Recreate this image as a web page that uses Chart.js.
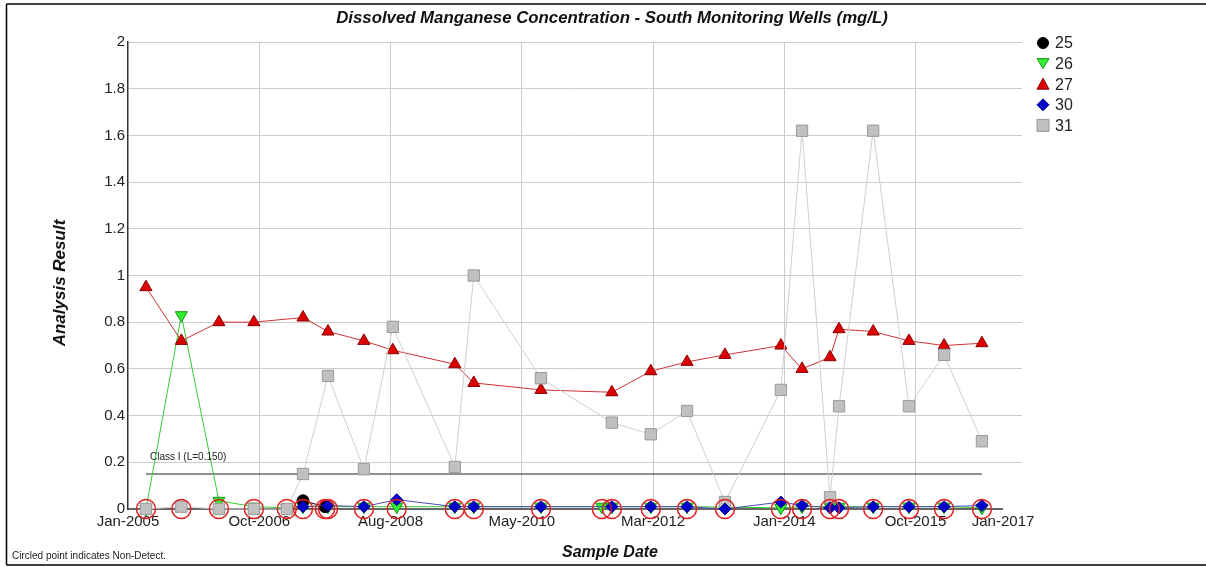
<!DOCTYPE html>
<html><head><meta charset="utf-8">
<script src="https://cdn.jsdelivr.net/npm/chart.js@4.4.0/dist/chart.umd.min.js"></script>
<style>html,body{margin:0;padding:0;background:#fff;}#wrap{position:relative;width:1206px;height:567px;}</style>
</head><body><div id="wrap"><canvas id="c" width="1206" height="567"></canvas></div>
<script>
// ---- data ----
const titleText = 'Dissolved Manganese Concentration - South Monitoring Wells (mg/L)';
const xTitle = 'Sample Date';
const yTitle = 'Analysis Result';
const footNote = 'Circled point indicates Non-Detect.';
const limitLabel = 'Class I (L=0.150)';
const limitValue = 0.15;
const limitDates = ['2005-04-01', '2016-09-17'];

const xTickDates = [2005.0, 2006.8, 2008.6, 2010.4, 2012.2, 2014.0, 2015.8, 2017.0];
const xTickLabels = ['Jan-2005', 'Oct-2006', 'Aug-2008', 'May-2010', 'Mar-2012', 'Jan-2014', 'Oct-2015', 'Jan-2017'];
const yTickValues = [0, 0.2, 0.4, 0.6, 0.8, 1, 1.2, 1.4, 1.6, 1.8, 2];

const seriesNames = ['25', '26', '27', '30', '31'];

const dates25 = ['2007-05-27', '2007-09-14'];
const values25 = [0.035, 0.01];

const dates26 = ['2005-04-01', '2005-09-25', '2006-04-01', '2006-09-23', '2007-03-07', '2007-05-27', '2007-09-29', '2008-03-27', '2008-09-08', '2009-06-26', '2009-09-29', '2010-08-31', '2011-07-02', '2011-08-21', '2012-03-03', '2012-09-01', '2013-12-15', '2014-03-31', '2014-08-18', '2014-10-02', '2015-03-22', '2015-09-17', '2016-03-11', '2016-09-17'];
const values26 = [0.0, 0.83, 0.035, 0.01, 0.005, 0.01, 0.01, 0.01, 0.01, 0.01, 0.01, 0.01, 0.01, 0.01, 0.01, 0.01, 0.005, 0.01, 0.01, 0.01, 0.01, 0.01, 0.01, 0.005];

const dates27 = ['2005-04-01', '2005-09-25', '2006-04-01', '2006-09-23', '2007-05-27', '2007-09-29', '2008-03-27', '2008-08-19', '2009-06-26', '2009-09-29', '2010-08-31', '2011-08-21', '2012-03-03', '2012-09-01', '2013-03-10', '2013-12-15', '2014-03-31', '2014-08-18', '2014-10-02', '2015-03-22', '2015-09-17', '2016-03-11', '2016-09-17'];
const values27 = [0.95, 0.72, 0.80, 0.80, 0.82, 0.76, 0.72, 0.68, 0.62, 0.54, 0.51, 0.50, 0.59, 0.63, 0.66, 0.70, 0.60, 0.65, 0.77, 0.76, 0.72, 0.70, 0.71];

const dates30 = ['2007-05-27', '2007-09-29', '2008-03-27', '2008-09-08', '2009-06-26', '2009-09-29', '2010-08-31', '2011-08-21', '2012-03-03', '2012-09-01', '2013-03-10', '2013-12-15', '2014-03-31', '2014-08-18', '2014-10-02', '2015-03-22', '2015-09-17', '2016-03-11', '2016-09-17'];
const values30 = [0.01, 0.015, 0.01, 0.04, 0.01, 0.01, 0.01, 0.01, 0.01, 0.01, 0.0, 0.03, 0.015, 0.005, 0.005, 0.01, 0.01, 0.01, 0.015];

const dates31 = ['2005-04-01', '2005-09-25', '2006-04-01', '2006-09-23', '2007-03-07', '2007-05-27', '2007-09-29', '2008-03-27', '2008-08-19', '2009-06-26', '2009-09-29', '2010-08-31', '2011-08-21', '2012-03-03', '2012-09-01', '2013-03-10', '2013-12-15', '2014-03-31', '2014-08-18', '2014-10-02', '2015-03-22', '2015-09-17', '2016-03-11', '2016-09-17'];
const values31 = [0.0, 0.01, 0.0, 0.0, 0.0, 0.15, 0.57, 0.17, 0.78, 0.18, 1.00, 0.56, 0.37, 0.32, 0.42, 0.03, 0.51, 1.62, 0.05, 0.44, 1.62, 0.44, 0.66, 0.29];

const nonDetectDates = ['2005-04-01', '2005-09-25', '2006-04-01', '2006-09-23', '2007-03-07', '2007-05-27', '2007-09-14', '2007-09-29', '2008-03-27', '2008-09-08', '2009-06-26', '2009-09-29', '2010-08-31', '2011-07-02', '2011-08-21', '2012-03-03', '2012-09-01', '2013-03-10', '2013-12-15', '2014-03-31', '2014-08-18', '2014-10-02', '2015-03-22', '2015-09-17', '2016-03-11', '2016-09-17'];
const nonDetectValues = [0, 0, 0, 0, 0, 0, 0, 0, 0, 0, 0, 0, 0, 0, 0, 0, 0, 0, 0, 0, 0, 0, 0, 0, 0, 0];

// ---- helpers ----
function toYear(s) {
  const [y, m, d] = s.split('-').map(Number);
  const start = Date.UTC(y, 0, 1), end = Date.UTC(y + 1, 0, 1);
  return y + (Date.UTC(y, m - 1, d) - start) / (end - start);
}
function pts(dates, values) { return dates.map((d, i) => ({ x: toYear(d), y: values[i] })); }

const styles = {
  '25': { pointStyle: 'circle', rotation: 0, radius: 6, bg: '#000000', border: '#000000', line: '#000000' },
  '26': { pointStyle: 'triangle', rotation: 180, radius: 7, bg: '#33ee33', border: '#139913', line: '#33cc33' },
  '27': { pointStyle: 'triangle', rotation: 0, radius: 7, bg: '#dd0000', border: '#8a0000', line: '#cc3333' },
  '30': { pointStyle: 'rectRot', rotation: 0, radius: 6, bg: '#0000cc', border: '#000080', line: '#4a4ab8' },
  '31': { pointStyle: 'rect', rotation: 0, radius: 8, bg: '#c0c0c0', border: '#999999', line: '#cfcfcf' }
};
const seriesData = { '25': pts(dates25, values25), '26': pts(dates26, values26), '27': pts(dates27, values27), '30': pts(dates30, values30), '31': pts(dates31, values31) };
const orders = { '25': 2, '26': 5, '27': 4, '30': 1, '31': 3 };

const datasets = seriesNames.map(n => ({
  label: n, data: seriesData[n], showLine: true, clip: false,
  borderColor: styles[n].line, borderWidth: 1,
  pointStyle: styles[n].pointStyle, rotation: styles[n].rotation,
  pointRadius: styles[n].radius, pointBackgroundColor: styles[n].bg,
  pointBorderColor: styles[n].border, pointBorderWidth: 1,
  order: orders[n]
}));
datasets.push({
  label: 'nd', data: pts(nonDetectDates, nonDetectValues), showLine: false, clip: false,
  pointStyle: 'circle', pointRadius: 9.5, pointBackgroundColor: 'rgba(0,0,0,0)',
  pointBorderColor: '#e02020', pointBorderWidth: 1.5, order: 0
});
datasets.push({
  label: 'limit', data: limitDates.map(d => ({ x: toYear(d), y: limitValue })), showLine: true,
  borderColor: '#222222', borderWidth: 1.2, pointRadius: 0, order: 7
});

const FONT = '"Liberation Sans", Arial, sans-serif';

function drawMarker(ctx, n, x, y) {
  const s = styles[n];
  ctx.save();
  ctx.fillStyle = s.bg; ctx.strokeStyle = s.border; ctx.lineWidth = 1;
  ctx.beginPath();
  if (s.pointStyle === 'circle') { ctx.arc(x, y, 5.5, 0, Math.PI * 2); }
  else if (s.pointStyle === 'triangle' && s.rotation === 180) { ctx.moveTo(x - 6, y - 5); ctx.lineTo(x + 6, y - 5); ctx.lineTo(x, y + 5); ctx.closePath(); }
  else if (s.pointStyle === 'triangle') { ctx.moveTo(x - 6, y + 5); ctx.lineTo(x + 6, y + 5); ctx.lineTo(x, y - 6); ctx.closePath(); }
  else if (s.pointStyle === 'rectRot') { ctx.moveTo(x, y - 6); ctx.lineTo(x + 6, y); ctx.lineTo(x, y + 6); ctx.lineTo(x - 6, y); ctx.closePath(); }
  else { ctx.rect(x - 6, y - 6, 12, 12); }
  ctx.fill(); ctx.stroke();
  ctx.restore();
}

const decor = {
  id: 'decor',
  beforeDatasetsDraw(chart) {
    const ctx = chart.ctx, xs = chart.scales.x, ys = chart.scales.y;
    ctx.save();
    ctx.strokeStyle = '#333333'; ctx.lineWidth = 1.5;
    const y0 = ys.getPixelForValue(0);
    ctx.beginPath(); ctx.moveTo(chart.chartArea.left, y0); ctx.lineTo(xs.getPixelForValue(2017.0), y0); ctx.stroke();
    ctx.restore();
  },
  afterDraw(chart) {
    const ctx = chart.ctx, ys = chart.scales.y;
    ctx.save();
    // frame
    ctx.strokeStyle = '#000'; ctx.lineWidth = 1.5;
    ctx.beginPath(); ctx.moveTo(6.5, 4); ctx.lineTo(1206, 4); ctx.stroke();
    ctx.beginPath(); ctx.moveTo(6.5, 4); ctx.lineTo(6.5, 565); ctx.stroke();
    ctx.beginPath(); ctx.moveTo(6.5, 565); ctx.lineTo(1206, 565); ctx.stroke();
    // title
    ctx.fillStyle = '#111';
    ctx.textAlign = 'center'; ctx.textBaseline = 'middle';
    ctx.font = 'italic bold 16.8px ' + FONT;
    ctx.fillText(titleText, 612, 18);
    // x title
    ctx.font = 'italic bold 16px ' + FONT;
    ctx.fillText(xTitle, 610, 553);
    // y title
    ctx.save();
    ctx.font = 'italic bold 17px ' + FONT;
    ctx.translate(60, 283); ctx.rotate(-Math.PI / 2);
    ctx.fillText(yTitle, 0, 0);
    ctx.restore();
    // limit label
    ctx.font = '10px ' + FONT; ctx.fillStyle = '#222'; ctx.textAlign = 'left';
    ctx.fillText(limitLabel, 150, ys.getPixelForValue(limitValue) - 17);
    // footnote
    ctx.fillText(footNote, 12, 556);
    // legend
    ctx.font = '16px ' + FONT; ctx.fillStyle = '#222';
    seriesNames.forEach((n, i) => {
      const ly = 43 + i * 20.6;
      drawMarker(ctx, n, 1043, ly);
      ctx.fillStyle = '#222';
      ctx.fillText(n, 1055, ly + 1);
    });
    ctx.restore();
  }
};

new Chart(document.getElementById('c'), {
  type: 'scatter',
  data: { datasets },
  options: {
    responsive: false, animation: false, devicePixelRatio: 1,
    layout: { padding: { left: 0, top: 42, right: 184, bottom: 0 } },
    plugins: { legend: { display: false }, title: { display: false }, tooltip: { enabled: false } },
    scales: {
      x: {
        type: 'linear', min: 2005, max: 2017.26,
        afterFit: s => { s.height = 58; },
        afterBuildTicks: s => { s.ticks = xTickDates.map(v => ({ value: v })); },
        ticks: { callback: (v, i) => xTickLabels[i], font: { family: FONT, size: 15 }, color: '#222', padding: 4, maxRotation: 0, autoSkip: false },
        grid: { color: c => (c.tick && (c.tick.value === 2005 || c.tick.value === 2017)) ? 'rgba(0,0,0,0)' : '#cccccc', drawTicks: false, lineWidth: 1 },
        border: { display: false }
      },
      y: {
        min: 0, max: 2,
        afterFit: s => { s.width = 128; },
        afterBuildTicks: s => { s.ticks = yTickValues.map(v => ({ value: v })); },
        ticks: { callback: v => String(parseFloat(Number(v).toFixed(1))), font: { family: FONT, size: 15 }, color: '#222', padding: 3 },
        grid: { color: c => (c.tick && c.tick.value === 0) ? 'rgba(0,0,0,0)' : '#cccccc', drawTicks: false, lineWidth: 1 },
        border: { display: true, color: '#333', width: 1.5 }
      }
    }
  },
  plugins: [decor]
});
</script></body></html>
